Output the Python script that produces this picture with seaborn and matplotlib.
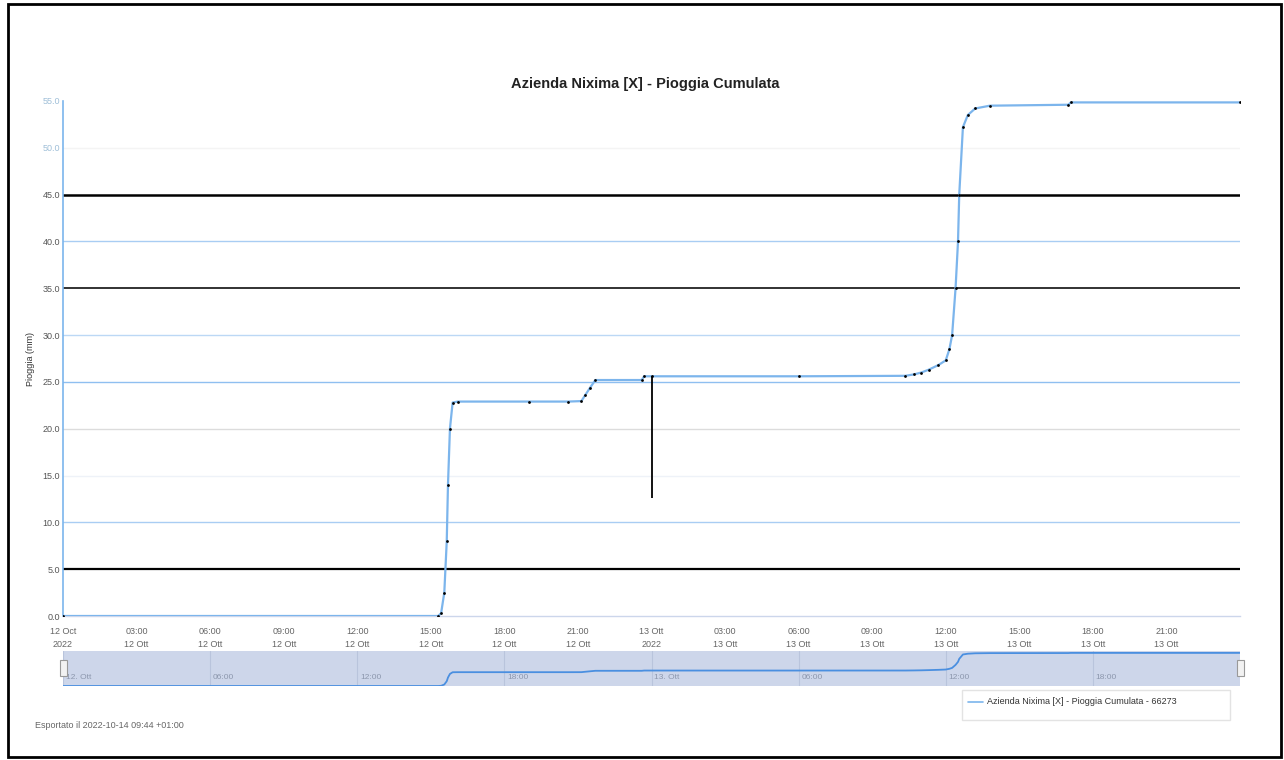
"""
Cumulative rainfall chart (Highcharts-style export) rebuilt with seaborn.
"""
import pandas as pd
import numpy as np
import matplotlib
matplotlib.use("Agg")
import matplotlib.pyplot as plt
import seaborn as sns
from matplotlib.patches import Rectangle

# --- data (hours since 12 Oct 2022 00:00, mm) ---
hours = [0.0, 15.3, 15.42, 15.55, 15.65, 15.7, 15.78, 15.89, 16.1, 19.0, 20.6, 21.14,
         21.3, 21.5, 21.71, 23.6, 23.7, 24.0, 30.0, 34.35, 34.7, 35.0, 35.3, 35.7,
         36.0, 36.15, 36.26, 36.4, 36.5, 36.55, 36.7, 36.9, 37.2, 37.8, 41.0, 41.1, 48.0]
rain = [0.0, 0.0, 0.3, 2.5, 8.0, 14.0, 20.0, 22.8, 22.9, 22.9, 22.9, 22.95,
        23.6, 24.4, 25.2, 25.2, 25.6, 25.6, 25.6, 25.65, 25.8, 26.0, 26.3, 26.8,
        27.3, 28.5, 30.0, 35.0, 40.0, 45.0, 52.2, 53.5, 54.2, 54.5, 54.6, 54.85, 54.85]

# odd vertical stroke at 13 Oct 00:00
spike_hour = 24.0
spike_range = [12.6, 25.6]

y_ticks = [0, 5, 10, 15, 20, 25, 30, 35, 40, 45, 50, 55]
x_ticks = [0, 3, 6, 9, 12, 15, 18, 21, 24, 27, 30, 33, 36, 39, 42, 45]
x_labels = ["12 Oct\n2022", "03:00\n12 Ott", "06:00\n12 Ott", "09:00\n12 Ott",
            "12:00\n12 Ott", "15:00\n12 Ott", "18:00\n12 Ott", "21:00\n12 Ott",
            "13 Ott\n2022", "03:00\n13 Ott", "06:00\n13 Ott", "09:00\n13 Ott",
            "12:00\n13 Ott", "15:00\n13 Ott", "18:00\n13 Ott", "21:00\n13 Ott"]
nav_ticks = [0, 6, 12, 18, 24, 30, 36, 42]
nav_labels = ["12. Ott", "06:00", "12:00", "18:00", "13. Ott", "06:00", "12:00", "18:00"]

title = "Azienda Nixima [X] - Pioggia Cumulata"
series_name = "Azienda Nixima [X] - Pioggia Cumulata - 66273"
footer = "Esportato il 2022-10-14 09:44 +01:00"

df = pd.DataFrame({"hour": hours, "rain": rain})

sns.set_theme(style="white")
plt.rcParams['font.family'] = ['Liberation Sans', 'DejaVu Sans']

W, H = 1284, 760
fig = plt.figure(figsize=(W / 100, H / 100), dpi=100)
fig.patch.set_facecolor("white")

def fx(px):
    return px / W

def fy(py):
    return 1 - py / H

# outer frame
fig.add_artist(Rectangle((fx(8), fy(757)), fx(1281) - fx(8), fy(4) - fy(757),
                         transform=fig.transFigure, fill=False, lw=2, ec="black"))

# --- main chart ---
ax = fig.add_axes([fx(63), fy(616), fx(1240) - fx(63), fy(101) - fy(616)])
ax.set_xlim(0, 48)
ax.set_ylim(0, 55)

line_col = "#7cb5ec"
# horizontal grid lines, styled like the export
grid_style = {5: ("black", 1.6), 10: ("#a9cdf3", 1.0), 15: ("#eef2f8", 1.0),
              20: ("#dcdcdc", 1.0), 25: ("#8fbff0", 1.0), 30: ("#bcd8f5", 1.0),
              35: ("#222222", 1.3), 40: ("#a9cdf3", 1.0), 45: ("black", 1.8),
              50: ("#f4f4f4", 1.0)}
for yv, (c, lw) in grid_style.items():
    ax.axhline(yv, color=c, lw=lw, zorder=1)

sns.lineplot(data=df, x="hour", y="rain", ax=ax, color=line_col, lw=1.6,
             marker="o", markersize=2, markeredgewidth=0, markerfacecolor="black",
             zorder=3)
ax.vlines(spike_hour, spike_range[0], spike_range[1], color="black", lw=1.3, zorder=4)

ax.set_yticks(y_ticks)
ax.set_yticklabels([f"{v:.1f}" for v in y_ticks], fontsize=6.5, color="#555555")
for lbl, v in zip(ax.get_yticklabels(), y_ticks):
    if v >= 50:
        lbl.set_color("#9fbfd8")
ax.set_xticks(x_ticks)
ax.set_xticklabels(x_labels, fontsize=6.5, color="#666666", linespacing=1.5)
ax.tick_params(axis="x", length=5, color="#ccd6eb", pad=3)
ax.tick_params(axis="y", length=0, pad=2)
ax.set_xlabel("")
ax.set_ylabel("Pioggia (mm)", fontsize=6.5, color="#333333")
ax.yaxis.set_label_coords(-0.0235, 0.5)

for s in ["top", "right"]:
    ax.spines[s].set_visible(False)
ax.spines["left"].set_color(line_col)
ax.spines["left"].set_linewidth(1.2)
ax.spines["bottom"].set_color("#ccd6eb")
ax.spines["bottom"].set_linewidth(1)

fig.text(fx(645), fy(84), title, ha="center", va="center", fontsize=10.5,
         fontweight="bold", color="#222222")

# --- navigator ---
nav = fig.add_axes([fx(63), fy(686), fx(1240) - fx(63), fy(651) - fy(686)])
nav.set_facecolor("#cdd6ea")
nav.set_xlim(0, 48)
nav.set_ylim(0, 58)
for t in nav_ticks:
    nav.axvline(t, color="#b9c4dc", lw=0.8, zorder=1)
sns.lineplot(data=df, x="hour", y="rain", ax=nav, color="#4a8fe0", lw=1.3, zorder=3)
for t, lab in zip(nav_ticks, nav_labels):
    nav.text(t + 0.12, 14, lab, fontsize=6, color="#8c97ad", va="center", ha="left")
nav.set_xticks([])
nav.set_yticks([])
nav.set_xlabel("")
nav.set_ylabel("")
for s in nav.spines.values():
    s.set_visible(False)

# scroll handles at both ends
for hx in [fx(63), fx(1240)]:
    fig.add_artist(Rectangle((hx - fx(3.5), fy(676)), fx(7), fy(660) - fy(676),
                             transform=fig.transFigure, fc="#f2f2f2", ec="#999999", lw=0.8))

# --- legend box ---
fig.add_artist(Rectangle((fx(962), fy(720)), fx(1230) - fx(962), fy(690) - fy(720),
                         transform=fig.transFigure, fill=False, ec="#e3e3e3", lw=1))
fig.add_artist(plt.Line2D([fx(968), fx(983)], [fy(702), fy(702)],
                          transform=fig.transFigure, color=line_col, lw=1.2))
fig.text(fx(987), fy(702), series_name, fontsize=6.5, color="#333333", va="center")

fig.text(fx(35), fy(725), footer, fontsize=6.5, color="#666666", va="center")

plt.savefig("out.png", dpi=100, facecolor="white")
plt.close()
